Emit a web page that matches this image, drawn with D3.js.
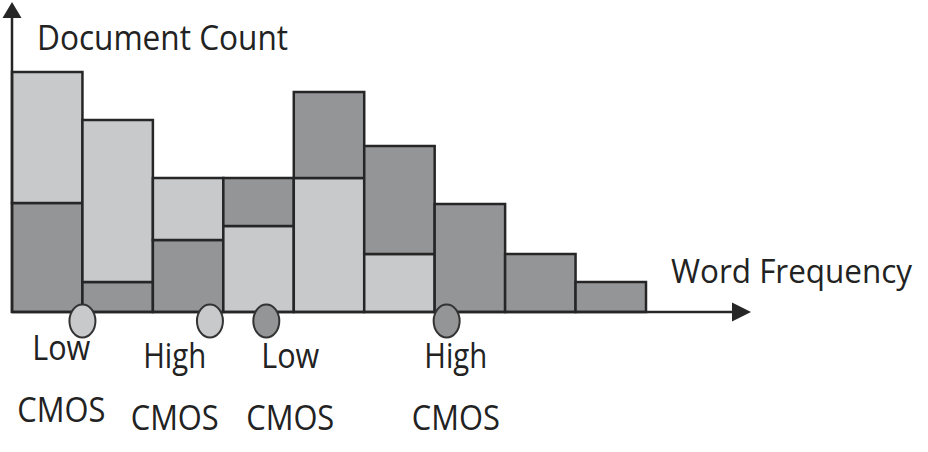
<!DOCTYPE html>
<html>
<head>
<meta charset="utf-8">
<script src="https://cdn.jsdelivr.net/npm/d3@7"></script>
<style>
  body { margin: 0; background: #fff; }
  text { font-family: "Open Sans", sans-serif; fill: #222; }
</style>
</head>
<body>
<div id="wrapper"></div>
<script>
// word frequency bins and document counts per cluster
const bins = [0, 1, 2, 3, 4, 5, 6, 7, 8];
const lightCounts = [13.1, 16.2, 6.2, 8.6, 13.4, 5.8, 0, 0, 0];
const darkCounts = [10.9, 3.0, 7.2, 4.8, 8.6, 10.8, 10.8, 5.8, 3.0];
// which cluster sits on the bottom of each bin
const bottomCluster = ["dark", "dark", "dark", "light", "light", "light", "dark", "dark", "dark"];

// cluster centres on the word frequency axis
const markerFreq = [1.0, 2.81, 3.61, 6.17];
const markerCluster = ["light", "light", "dark", "dark"];

const labelFreq = [0.70, 2.31, 3.95, 6.30];
const labelTop = ["Low", "High", "Low", "High"];
const labelBottom = ["CMOS", "CMOS", "CMOS", "CMOS"];

const width = 928;
const height = 452;

const fill = { light: "#c8c9cb", dark: "#949597" };
const ink = "#262626";

const svg = d3.select("#wrapper")
  .append("svg")
  .attr("width", width)
  .attr("height", height);

const xScale = d3.scaleLinear()
  .domain([0, 9])
  .range([12, 646]);

const yScale = d3.scaleLinear()
  .domain([0, 24])
  .range([312, 72]);

// stacked segments
const segments = [];
bins.forEach(function (b, i) {
  const order = bottomCluster[i] == "dark" ? ["dark", "light"] : ["light", "dark"];
  let base = 0;
  order.forEach(function (c) {
    const v = c == "dark" ? darkCounts[i] : lightCounts[i];
    if (v > 0) {
      segments.push({ bin: b, cluster: c, y0: base, y1: base + v });
    }
    base += v;
  });
});

svg.selectAll("rect.seg")
  .data(segments)
  .enter().append("rect")
  .attr("class", "seg")
  .attr("x", d => xScale(d.bin))
  .attr("y", d => yScale(d.y1))
  .attr("width", d => xScale(d.bin + 1) - xScale(d.bin))
  .attr("height", d => yScale(d.y0) - yScale(d.y1))
  .attr("fill", d => fill[d.cluster])
  .attr("stroke", ink)
  .attr("stroke-width", 2.5);

// axes with arrow heads
const x0 = xScale(0), y0 = yScale(0);
svg.append("line")
  .attr("x1", x0).attr("y1", y0 + 1)
  .attr("x2", x0).attr("y2", 14)
  .attr("stroke", ink).attr("stroke-width", 2.5);
svg.append("path")
  .attr("d", `M${x0},2 L${x0 - 9.5},18 L${x0 + 9.5},18 Z`)
  .attr("fill", ink);

svg.append("line")
  .attr("x1", x0).attr("y1", y0)
  .attr("x2", 736).attr("y2", y0)
  .attr("stroke", ink).attr("stroke-width", 2.5);
svg.append("path")
  .attr("d", `M751,${y0} L732,${y0 - 9.5} L732,${y0 + 9.5} Z`)
  .attr("fill", ink);

// cluster markers
svg.selectAll("ellipse.marker")
  .data(markerFreq)
  .enter().append("ellipse")
  .attr("class", "marker")
  .attr("cx", d => xScale(d))
  .attr("cy", y0 + 9)
  .attr("rx", 13)
  .attr("ry", 16.5)
  .attr("fill", (d, i) => fill[markerCluster[i]])
  .attr("stroke", "#333")
  .attr("stroke-width", 2);

// axis titles
svg.append("text")
  .attr("x", 37).attr("y", 50)
  .attr("font-size", 35)
  .attr("textLength", 251)
  .attr("lengthAdjust", "spacingAndGlyphs")
  .text("Document Count");

svg.append("text")
  .attr("x", 671).attr("y", 283)
  .attr("font-size", 33)
  .attr("textLength", 241)
  .attr("lengthAdjust", "spacingAndGlyphs")
  .text("Word Frequency");

// marker labels
const topWidth = { Low: 58, High: 63 };
svg.selectAll("text.top")
  .data(labelFreq)
  .enter().append("text")
  .attr("class", "top")
  .attr("x", (d, i) => xScale(d) - topWidth[labelTop[i]] / 2)
  .attr("y", (d, i) => i == 0 ? 360 : 368)
  .attr("font-size", 35)
  .attr("textLength", (d, i) => topWidth[labelTop[i]])
  .attr("lengthAdjust", "spacingAndGlyphs")
  .text((d, i) => labelTop[i]);

svg.selectAll("text.bottom")
  .data(labelFreq)
  .enter().append("text")
  .attr("class", "bottom")
  .attr("x", d => xScale(d) - 44)
  .attr("y", (d, i) => i == 0 ? 422 : 430)
  .attr("font-size", 35)
  .attr("textLength", 88)
  .attr("lengthAdjust", "spacingAndGlyphs")
  .text((d, i) => labelBottom[i]);
</script>
</body>
</html>
